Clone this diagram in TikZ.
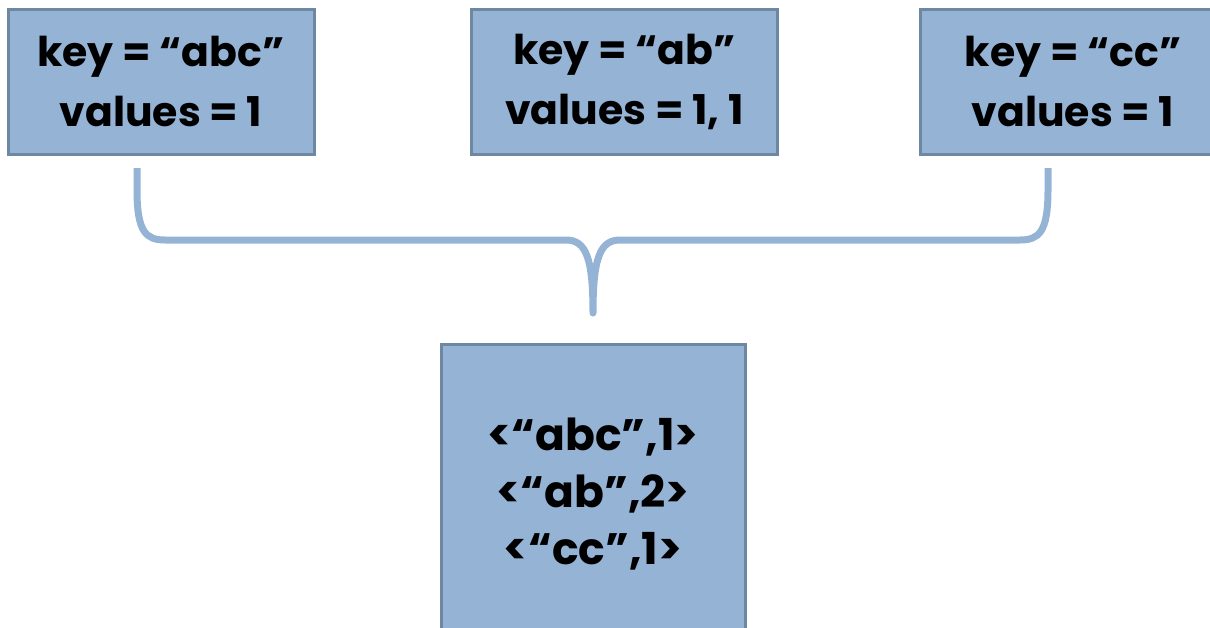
\documentclass[tikz,border=0pt]{standalone}
\usepackage{fontspec}
\setmainfont{Poppins}[BoldFont={* Bold}]
\definecolor{boxfill}{RGB}{149,179,213}
\definecolor{boxedge}{RGB}{109,136,160}
\begin{document}
\begin{tikzpicture}[x=0.5pt, y=-0.5pt,
    every node/.style={font=\bfseries\fontsize{20.5}{30}\selectfont, align=center}]
  \clip (0,0) rectangle (1210,627);

  %% ---------- TOP: the three map outputs ----------
  \begin{scope}[every node/.style={rectangle, draw=boxedge, fill=boxfill, line width=1.5pt,
        minimum width=153pt, minimum height=72.5pt, inner sep=0pt,
        font=\bfseries\fontsize{20.5}{30}\selectfont, align=center}]
    \node (kabc) at (161,81.5)  {key = “abc”\\values = 1};
    \node (kab)  at (624.5,81.5) {key = “ab”\\values = 1, 1};
    \node (kcc)  at (1073,81.5) {key = “cc”\\values = 1};
  \end{scope}

  %% ---------- brace gathering them ----------
  \coordinate (bl) at (137,168);
  \coordinate (tip) at (593,313);
  \coordinate (br) at (1048,168);
  \draw[boxfill, line width=3.5pt, line join=round]
    (bl) -- (137,190) .. controls (137,232) and (146,240) .. (165,240)
    -- (566,240) .. controls (586,240) and (593,258) .. (tip)
    .. controls (593,258) and (600,240) .. (620,240)
    -- (1020,240) .. controls (1039,240) and (1048,232) .. (1048,190) -- (br);

  %% ---------- BOTTOM: reduce output ----------
  \node[rectangle, draw=boxedge, fill=boxfill, line width=1.5pt,
        minimum width=152pt, minimum height=150pt, inner sep=0pt, anchor=north,
        font=\bfseries\fontsize{22}{28.5}\selectfont]
    (reduced) at (593,343) {<“abc”,1>\\<“ab”,2>\\<“cc”,1>};
\end{tikzpicture}
\end{document}
